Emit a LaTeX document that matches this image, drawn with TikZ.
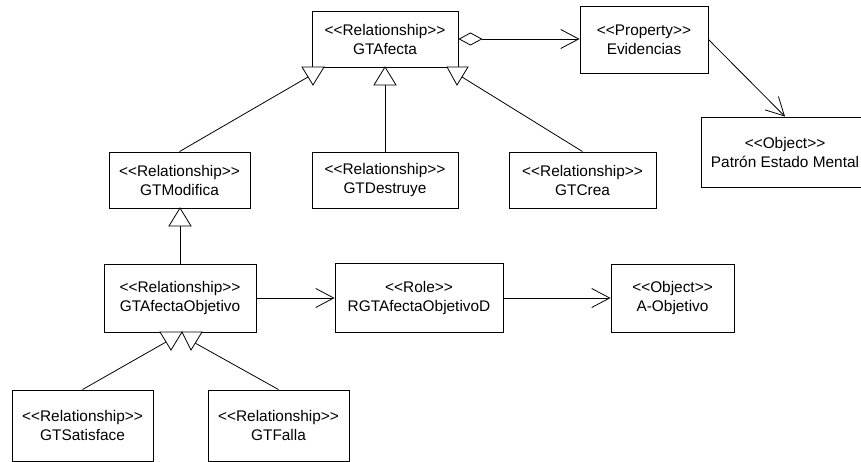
\documentclass[tikz,border=0pt]{standalone}
\usepackage{fontspec}
\newfontfamily\umlfont{Liberation Sans}[Ligatures=TeXOff]
\usetikzlibrary{arrows.meta}
\begin{document}
\begin{tikzpicture}[x=1pt,y=-1pt,
  box/.style={draw=black,line width=0.9pt,fill=white,align=center,inner sep=0pt,
    font=\umlfont\fontsize{15.4}{19}\selectfont},
  link/.style={draw=black,line width=0.8pt},
  nav/.style={link,-{Straight Barb[length=18pt,width=19pt,line width=0.8pt]}},
  agg/.style={nav,{Diamond[open,length=24pt,width=13pt,line width=0.8pt]}-{Straight Barb[length=18pt,width=19pt,line width=0.8pt]}},
  genhead/.style={draw=black,line width=0.8pt,fill=white,line join=miter}]
\useasboundingbox (0,0) rectangle (861,462);
\fill[white] (0,0) rectangle (861,462);

% classes
\node[box,minimum width=146pt,minimum height=56pt] (afecta) at (385,39) {<<Relationship>>\\GTAfecta};
\node[box,minimum width=128pt,minimum height=67pt] (evid) at (644,39.5) {<<Property>>\\Evidencias};
\node[box,minimum width=168pt,minimum height=70pt] (patron) at (785,152) {<<Object>>\\Patrón Estado Mental};
\node[box,minimum width=141pt,minimum height=56pt] (modifica) at (179.5,180) {<<Relationship>>\\GTModifica};
\node[box,minimum width=146pt,minimum height=56pt] (destruye) at (385,180) {<<Relationship>>\\GTDestruye};
\node[box,minimum width=147pt,minimum height=56pt] (crea) at (582.5,180) {<<Relationship>>\\GTCrea};
\node[box,minimum width=152pt,minimum height=68pt] (afobj) at (180,298) {<<Relationship>>\\GTAfectaObjetivo};
\node[box,minimum width=168pt,minimum height=69pt] (role) at (419,298) {<<Role>>\\RGTAfectaObjetivoD};
\node[box,minimum width=123pt,minimum height=68pt] (aobj) at (672.5,298) {<<Object>>\\A-Objetivo};
\node[box,minimum width=141pt,minimum height=71pt] (satis) at (82.5,425.5) {<<Relationship>>\\GTSatisface};
\node[box,minimum width=141pt,minimum height=71pt] (falla) at (278.5,425.5) {<<Relationship>>\\GTFalla};

% points where the generalization lines meet their triangles
\coordinate (gModifica) at (308,77);
\coordinate (gDestruye) at (385,85);
\coordinate (gCrea) at (462,77);
\coordinate (gAfObj) at (180,226);
\coordinate (gSatis) at (166,342);
\coordinate (gFalla) at (195,343);

% associations
\draw[agg] (afecta.east) -- (afecta.east -| evid.west);
\draw[nav] (evid.east) -- (patron.north);
\draw[nav] (afobj.east) -- (afobj.east -| role.west);
\draw[nav] (role.east) -- (role.east -| aobj.west);

% generalizations
\draw[link] (modifica.north) -- (gModifica);
\draw[link] (destruye.north) -- (gDestruye);
\draw[link] (crea.north) -- (gCrea);
\draw[link] (afobj.north) -- (gAfObj);
\draw[link] (satis.north) -- (gSatis);
\draw[link] (falla.north) -- (gFalla);

% generalization heads
\draw[genhead] (302,67) -- (324,67) -- (313,85) -- cycle;
\draw[genhead] (385,67) -- (396,85) -- (374,85) -- cycle;
\draw[genhead] (447,67) -- (468,67) -- (457,85) -- cycle;
\draw[genhead] (180,208) -- (191,226) -- (169,226) -- cycle;
\draw[genhead] (160,332) -- (182,332) -- (171,350) -- cycle;
\draw[genhead] (182,332) -- (202,332) -- (191,350) -- cycle;
\end{tikzpicture}
\end{document}
